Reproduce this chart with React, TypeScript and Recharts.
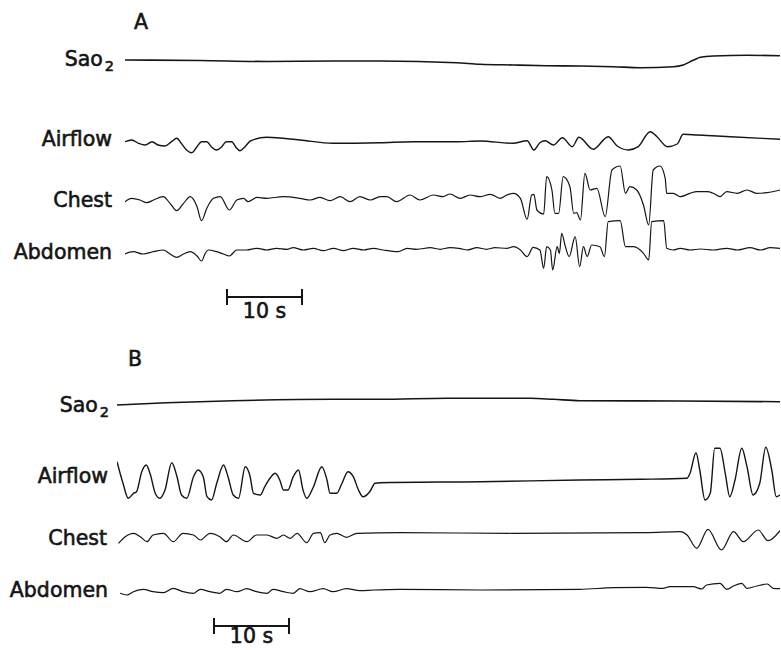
import React from "react";
import { Line, LineChart, XAxis, YAxis } from "recharts";

// time in seconds from start of trace, value = trace deflection (up positive, arbitrary units)
const aSao2 = [
  [0, 0], [10, -0.5], [19, -1.5], [28, -1], [34, -1], [44.2, -2.7], [47.3, -4.3], [51.8, -5],
  [56.2, -5.7], [60.7, -6], [65.1, -6.7], [68.7, -7.7], [73.1, -6.7], [74.4, -5], [75.8, 0],
  [76.7, 2.7], [78.4, 4], [82.9, 4.7], [87.3, 4.3],
];

const aAirflow = [
  [0, -0.7], [0.9, 1], [1.8, -2.3], [2.7, -4], [3.6, -0.7], [4.4, -4], [5.3, -5], [6.2, -0.7],
  [6.9, 2.7], [7.5, -2.3], [8.2, -9], [8.9, -11.7], [9.6, -5.7], [10.2, -0.7], [10.9, -0.7],
  [11.5, -5.7], [12.2, -9], [12.9, -5.7], [13.5, -0.7], [14.2, -0.7], [14.9, -7.3], [15.3, -9.7],
  [16, -5.7], [16.7, 0], [18.9, 3.7], [23.3, 1], [27.7, -2.3], [34, -1.7], [38.4, -0.7],
  [44.3, -0.7], [47.3, 0], [51.7, -2.3], [53.6, 0.3], [54.5, -9], [55.3, -1.7], [56, 0.3],
  [57.1, -4], [58.3, 3.3], [59.6, -5.7], [60.5, 3.7], [62.4, -8.3], [64.4, 4.3], [65.6, -5],
  [67.1, -9], [68.4, -5.7], [70, 9.3], [70.9, 4.3], [72.3, -5.7], [73.6, -3], [74.4, 6.7],
  [76.3, 6], [80.7, 4.3], [87.3, 1.7],
];

const aChest = [
  [0, -1.7], [0.9, 1.7], [2, 0], [2.9, -2.7], [3.8, 0], [5.1, 3.3], [6, -3.3], [6.9, -10.7],
  [7.8, -3.3], [8.7, 3.3], [9.6, -6.7], [10.2, -20.7], [10.9, -8.3], [11.8, 1.7], [12.7, 3.3],
  [13.9, -10], [14.9, 0], [15.8, 1.7], [16.4, -1.7], [17.6, 2.7], [18.9, 1.7], [21.1, 3.3],
  [23.3, 1.7], [24.7, 0], [26, 2.7], [27.3, -0.7], [28.7, 3.3], [30, -1.7], [31.3, 3.3],
  [32.7, 0], [34, 3.3], [34.9, 3.3], [36.2, -1.7], [38, 5], [39.3, 0], [41.1, 5], [42.4, 3.3],
  [43.3, 6], [44.7, 1.7], [46, 5], [47.3, 3.3], [48.7, 5.7], [50, 1.7], [50.9, 5], [51.8, 6.7],
  [52.7, 1.7], [53.6, -19.3], [54.2, 5], [54.5, 5.7], [54.9, -10], [55.8, -14], [56.2, 23.3],
  [56.9, 10], [57.3, -13.3], [57.8, -13.3], [58.4, 23.3], [59.3, 13.3], [59.8, -13.3],
  [60.2, -12.7], [60.7, -20], [61.3, 26.7], [62, 10], [62.9, 11.7], [64, -16.7], [64.9, 30],
  [66, 34], [66.7, 6.7], [67.3, 13.3], [68.2, 10], [69.1, -5], [69.8, -25], [70.4, 30],
  [71.3, 34], [72, 21.7], [72.2, 6.7], [73.1, 6.7], [74, 3.3], [75.3, 6.7], [76.2, 8.3],
  [77.6, 8.3], [78.4, 6.7], [79.3, 3.3], [80.2, 8.3], [81.6, 6.7], [82.9, 10], [84.2, 6.7],
  [85.6, 7.3], [87.3, 10],
];

const aAbdomen = [
  [0, -4], [1.1, -1.7], [2.4, -4], [3.8, -1.7], [5.1, 0], [6, -4], [6.9, -7.3], [7.8, -4],
  [8.7, -1.7], [9.6, -6], [10.2, -11], [10.7, -3.3], [11.1, 0], [12.2, -1.7], [13.1, -4],
  [13.9, -6], [14.9, 0], [16.2, 0], [17.6, 1.7], [18.9, 0], [20.2, 1.7], [21.6, 0.7],
  [22.4, 2.3], [23.8, 0], [25.1, 1.7], [26.4, -0.7], [27.8, 1.7], [29.1, -0.7], [30.4, 1.7],
  [31.8, 0], [33.1, 1.7], [34.4, 0], [36.4, -1.7], [37.6, 1.7], [38.9, 0.7], [40.7, 2.3],
  [42, 0.7], [43.3, 2.3], [44.7, 1.3], [45.6, 0], [46.9, 2.3], [48.2, 0.7], [49.3, 2.3],
  [50.9, 1.7], [51.8, 3.3], [52.7, 0], [53.6, -6.7], [54.4, 2.7], [55.3, 0], [55.8, -18.3],
  [56.2, 3.3], [56.7, 0], [57, -20], [57.6, 3.3], [57.9, -3.3], [58.2, 16.7], [58.7, 3.3],
  [59.2, -6.7], [60, 13.3], [60.6, -16.7], [61.1, 3.3], [61.6, -6.7], [62.2, 5], [63.3, 3.3],
  [63.9, -6.7], [64.4, 28.3], [66, 29.3], [66.7, 3.3], [67.8, 3.3], [69.1, -3.3], [69.8, -10],
  [70.2, 28.3], [71.8, 29.3], [72.2, 1.7], [73.1, 0], [74, 1.7], [75.3, 0], [76.7, 1],
  [78.4, 0], [80.2, 1.7], [81.6, 0], [83.3, 2.3], [84.7, 0], [86, 2.3], [87.3, 1.7],
];

const bSao2 = [
  [0, -3], [6.6, -0.7], [15.5, 1.3], [28.8, 2.7], [35.1, 2.7], [44, 3.7], [55.1, 3.7],
  [58.2, 2.7], [61.7, 1.3], [75.1, 1], [88.4, 0.3],
];

const bAirflow = [
  [0, 21.3], [0.8, -0.3], [1.5, -15.3], [2.2, -10.3], [2.6, -8.7], [3.3, 11.3], [3.9, 18],
  [4.4, 9.7], [5.1, -10.3], [5.7, -15.3], [6.4, -7], [7.3, 20.3], [8, 6.3], [8.6, -12],
  [9.3, -15.3], [10.2, 6.3], [10.8, 13], [11.5, 6.3], [12, -13.7], [12.6, -17], [13.3, -0.3],
  [14.2, 18], [14.8, 6.3], [15.5, -12], [16.2, -15.3], [17.1, 16.3], [17.7, 8], [18.2, -10.3],
  [19.1, -12], [19.7, -3.7], [20.4, 4.7], [21.1, 9.7], [21.7, 3], [22.2, -7], [22.8, -7],
  [23.5, 6.3], [24.2, 13], [24.8, -7], [25.3, -15.3], [26.2, -3.7], [27.3, 16.3], [28, 3],
  [28.4, -10.3], [29.3, -10.3], [30, -0.3], [30.8, 11.3], [31.5, 6.3], [32.2, -7],
  [32.8, -13.7], [33.7, -8.7], [34.4, -0.3], [35.1, 0.3], [48.4, 1.3], [61.7, 3], [69.7, 3.7],
  [76, 4.7], [76.4, 9.7], [77.2, 30.3], [77.7, 13], [78.4, -17], [79.1, -10.3], [79.7, 34.7],
  [80.4, 34.7], [81.1, 9.7], [81.7, -13.7], [82.4, 3], [83.3, 34.7], [84, 16.3], [84.8, -12],
  [85.7, -0.3], [86.5, 35.7], [87.3, 13], [87.9, -13.7], [88.4, -12],
];

const bChest = [
  [0.2, -6.3], [1.1, 0.3], [2.2, 3.7], [3.1, 0.3], [4, -4.7], [4.8, 2], [6.2, 3.7], [7.5, -4.7],
  [8.8, 3.7], [10.2, 2], [11.1, -3], [12.4, 3.7], [13.7, 0.3], [14.6, -4.7], [15.5, 2],
  [17.3, -4.7], [18.6, 2], [20, 2], [21.3, -1.3], [22.2, 2], [23.1, -1.3], [24, 3.7],
  [25.3, -5.7], [26.2, 3.7], [27.1, 4.3], [27.7, -5.7], [28.4, 2], [29.3, 3.7], [30.6, -0.3],
  [32, 3.7], [37.7, 4.3], [52.8, 3.7], [70.6, 4.3], [75.1, 5.3], [76, 2], [77.3, -11.3],
  [78.8, 7.7], [80.6, -13], [82.2, 5.3], [83.5, -4.7], [85.5, 7], [86.8, -3.7], [88.4, 6.3],
];

const bAbdomen = [
  [0.4, -3.3], [1.3, -5], [2.2, -1.7], [3.5, 0.7], [4.8, -1.7], [6.2, -2.7], [7.5, 1.7],
  [8.8, -1.7], [10.2, -3.3], [11.1, 0.7], [12.4, -1.7], [13.7, -3.3], [14.6, 0.7], [16, -1.7],
  [17.3, 1.3], [18.6, -1.7], [20, -3.3], [20.8, 0.7], [22.2, -1.7], [23.5, -3.3], [24.4, 1.3],
  [25.7, -1.7], [27.5, 1.3], [28.8, -1.7], [30.6, 1.3], [32.4, -0.7], [34.2, 0], [37.7, 0.7],
  [48.4, 0], [61.7, 0.7], [66.2, 2.3], [70.6, 2.7], [72.8, 1.7], [73.7, 3.3], [76.8, 3.3],
  [78, 1], [78.6, 5], [80.4, 6.7], [81.3, 0.7], [82.2, 4], [83.3, 6.7], [84, 1.7], [85.3, 4],
  [86.7, 6], [87.5, 1.7], [88.4, 1.3],
];

const PX_PER_S = 7.5;
const FONT = "'DejaVu Sans', sans-serif";
const INK = "#151515";

function Trace({ data, left, baseline, duration, width = 1.4 }) {
  const rows = data.map(([t, v]) => ({ t, v }));
  const h = 90;
  return (
    <div style={{ position: "absolute", left, top: baseline - h / 2 }}>
      <LineChart width={Math.round(duration * PX_PER_S)} height={h} data={rows}
        margin={{ top: 0, right: 0, bottom: 0, left: 0 }}>
        <XAxis dataKey="t" type="number" domain={[0, duration]} hide />
        <YAxis type="number" domain={[-h / 2, h / 2]} hide />
        <Line type="monotone" dataKey="v" stroke={INK} strokeWidth={width}
          dot={false} isAnimationActive={false} />
      </LineChart>
    </div>
  );
}

const textStyle = {
  fontFamily: FONT, fontSize: 20.5, color: INK, whiteSpace: "nowrap",
  WebkitTextStroke: "0.6px " + INK,
};

function Label({ right, y, children }) {
  return (
    <div style={{
      ...textStyle, position: "absolute", right: 781 - right, top: y - 13, height: 26, lineHeight: "26px",
    }}>{children}</div>
  );
}

function Sao2({ right, y }) {
  return (
    <Label right={right} y={y}>
      Sao<span style={{ fontSize: 14.5, position: "relative", top: 5, marginLeft: 2 }}>2</span>
    </Label>
  );
}

function ScaleBar({ x1, x2, y, labelTop }) {
  return (
    <>
      <div style={{ position: "absolute", left: x1, top: y - 1, width: x2 - x1, height: 2, background: INK }} />
      <div style={{ position: "absolute", left: x1 - 1, top: y - 8, width: 2, height: 16, background: INK }} />
      <div style={{ position: "absolute", left: x2 - 1, top: y - 8, width: 2, height: 16, background: INK }} />
      <div style={{
        ...textStyle, position: "absolute", left: (x1 + x2) / 2 - 30, width: 60, top: labelTop,
        textAlign: "center", lineHeight: "18px", height: 18,
      }}>10 s</div>
    </>
  );
}

export default function App() {
  const durA = 87.3;
  const durB = 88.4;
  return (
    <div style={{ position: "absolute", left: 0, top: 0, width: 781, height: 650, background: "#fff", overflow: "hidden" }}>
      <div style={{ ...textStyle, position: "absolute", left: 134, top: 11, lineHeight: "22px" }}>A</div>
      <Sao2 right={114} y={59} />
      <Label right={112} y={139}>Airflow</Label>
      <Label right={112} y={200}>Chest</Label>
      <Label right={112} y={252}>Abdomen</Label>
      <Trace data={aSao2} left={125} baseline={60} duration={durA} width={1.6} />
      <Trace data={aAirflow} left={125} baseline={141} duration={durA} />
      <Trace data={aChest} left={125} baseline={200} duration={durA} width={1.2} />
      <Trace data={aAbdomen} left={125} baseline={250} duration={durA} width={1.2} />
      <ScaleBar x1={227} x2={302} y={297} labelTop={302} />

      <div style={{ ...textStyle, position: "absolute", left: 128, top: 348, lineHeight: "22px" }}>B</div>
      <Sao2 right={109} y={405} />
      <Label right={108} y={476}>Airflow</Label>
      <Label right={107} y={538}>Chest</Label>
      <Label right={108} y={590}>Abdomen</Label>
      <Trace data={bSao2} left={117} baseline={402} duration={durB} width={1.6} />
      <Trace data={bAirflow} left={117} baseline={483} duration={durB} />
      <Trace data={bChest} left={117} baseline={537} duration={durB} width={1.2} />
      <Trace data={bAbdomen} left={117} baseline={590} duration={durB} width={1.2} />
      <ScaleBar x1={214} x2={289} y={626} labelTop={627} />
    </div>
  );
}
